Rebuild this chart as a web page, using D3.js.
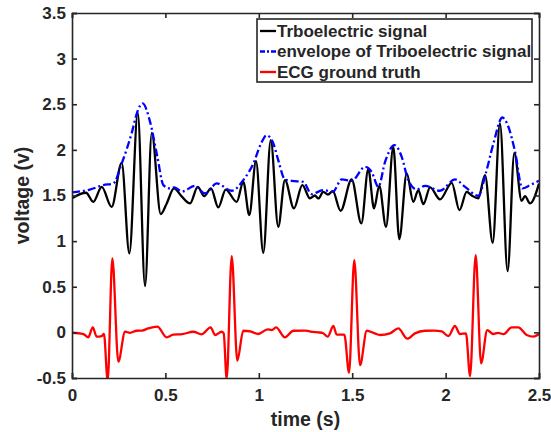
<!DOCTYPE html>
<html>
<head>
<meta charset="utf-8">
<script src="https://cdn.jsdelivr.net/npm/d3@7"></script>
<style>
  body { margin: 0; background: #fff; }
  text { font-family: "Liberation Sans", Arial, Helvetica, sans-serif; font-weight: bold; fill: #262626; }
</style>
</head>
<body>
<svg id="chart"></svg>
<script>
// triboelectric signal (time s, voltage v) - local peaks / troughs
const triboT = [0, 0.075, 0.114, 0.159, 0.212, 0.266, 0.307, 0.352, 0.391, 0.427, 0.475, 0.507, 0.546, 0.587,
  0.632, 0.673, 0.708, 0.744, 0.783, 0.823, 0.882, 0.917, 0.949, 0.985, 1.024, 1.064, 1.104, 1.140, 1.188,
  1.233, 1.274, 1.300, 1.319, 1.345, 1.370, 1.396, 1.438, 1.497, 1.549, 1.586, 1.617, 1.645, 1.681, 1.720,
  1.752, 1.792, 1.827, 1.854, 1.881, 1.917, 1.970, 2.033, 2.074, 2.113, 2.140, 2.175, 2.211, 2.252, 2.291,
  2.332, 2.368, 2.407, 2.425, 2.452, 2.500];
const triboV = [1.47, 1.53, 1.43, 1.595, 1.376, 1.858, 0.866, 2.406, 0.508, 2.187, 1.296, 1.413, 1.578, 1.49,
  1.413, 1.595, 1.493, 1.578, 1.37, 1.565, 1.43, 1.65, 1.285, 1.877, 0.872, 2.107, 1.157, 1.669, 1.359,
  1.614, 1.468, 1.50, 1.468, 1.54, 1.51, 1.548, 1.332, 1.676, 1.194, 1.789, 1.359, 1.606, 1.157, 2.033,
  1.022, 1.742, 1.43, 1.559, 1.405, 1.589, 1.457, 1.639, 1.34, 1.54, 1.50, 1.468, 1.723, 0.982, 2.29,
  0.672, 1.968, 1.442, 1.493, 1.413, 1.632];

// envelope of the triboelectric signal
const envT = [0, 0.096, 0.168, 0.221, 0.266, 0.319, 0.352, 0.378, 0.418, 0.457, 0.489, 0.525, 0.546, 0.590,
  0.658, 0.712, 0.775, 0.855, 0.917, 0.971, 1.012, 1.042, 1.078, 1.104, 1.140, 1.176, 1.238, 1.283, 1.345,
  1.396, 1.444, 1.497, 1.569, 1.604, 1.640, 1.676, 1.726, 1.765, 1.800, 1.845, 1.890, 1.970, 2.050, 2.104,
  2.175, 2.215, 2.256, 2.304, 2.336, 2.372, 2.411, 2.452, 2.500];
const envV = [1.534, 1.565, 1.614, 1.632, 1.85, 2.18, 2.43, 2.509, 2.307, 1.924, 1.614, 1.578, 1.59, 1.545,
  1.606, 1.523, 1.632, 1.552, 1.669, 1.852, 2.07, 2.16, 2.07, 1.888, 1.676, 1.661, 1.65, 1.515, 1.559,
  1.54, 1.676, 1.66, 1.814, 1.76, 1.595, 1.869, 2.052, 1.924, 1.669, 1.567, 1.606, 1.552, 1.676, 1.595,
  1.497, 1.742, 2.07, 2.355, 2.253, 1.979, 1.578, 1.614, 1.661];

// ECG ground truth
const ecgT = [0, 0.061, 0.087, 0.111, 0.132, 0.159, 0.171, 0.191, 0.216, 0.248, 0.284, 0.310, 0.346, 0.375,
  0.408, 0.457, 0.507, 0.542, 0.590, 0.649, 0.694, 0.742, 0.766, 0.801, 0.812, 0.828, 0.855, 0.885, 0.917,
  0.955, 0.997, 1.047, 1.070, 1.092, 1.140, 1.185, 1.250, 1.290, 1.319, 1.345, 1.369, 1.399, 1.417, 1.458,
  1.483, 1.511, 1.542, 1.578, 1.620, 1.649, 1.702, 1.747, 1.795, 1.836, 1.890, 1.940, 1.979, 2.015, 2.050,
  2.077, 2.109, 2.131, 2.161, 2.190, 2.223, 2.255, 2.280, 2.310, 2.354, 2.389, 2.434, 2.470, 2.500];
const ecgV = [-0.004, -0.018, -0.054, 0.055, -0.047, -0.04, -0.018, -0.53, 0.811, -0.32, 0.007, -0.005, 0.018, 0.02,
  0.043, 0.062, -0.054, -0.025, -0.02, 0.007, -0.021, 0.055, -0.029, 0.007, -0.01, -0.51, 0.836, -0.31, 0.018,
  0.01, -0.018, 0.033, 0.025, 0.055, -0.054, 0.018, 0.02, 0.005, 0, -0.01, -0.047, 0.07, -0.025, -0.025,
  -0.442, 0.792, -0.358, 0.018, -0.01, -0.029, -0.011, 0.043, -0.069, -0.011, 0.018, 0.02, 0.01, -0.04, 0.07,
  -0.018, -0.011, -0.478, 0.847, -0.339, 0.025, -0.018, -0.005, -0.02, 0.055, 0.055, -0.029, -0.047, -0.018];

const xTicks = [0, 0.5, 1, 1.5, 2, 2.5];
const yTicks = [-0.5, 0, 0.5, 1, 1.5, 2, 2.5, 3, 3.5];
const legendNames = ['Trboelectric signal', 'envelope of Triboelectric signal', 'ECG ground truth'];

const config = {
  containerWidth: 551,
  containerHeight: 432,
  margin: {top: 13, right: 12, bottom: 54, left: 72}
};

const svg = d3.select('#chart')
    .attr('width', config.containerWidth)
    .attr('height', config.containerHeight);

const width = config.containerWidth - config.margin.left - config.margin.right;
const height = config.containerHeight - config.margin.top - config.margin.bottom;

const chart = svg.append('g')
    .attr('transform', `translate(${config.margin.left},${config.margin.top})`);

const xScale = d3.scaleLinear().domain([0, 2.5]).range([0, width]);
const yScale = d3.scaleLinear().domain([-0.5, 3.5]).range([height, 0]);

chart.append('clipPath')
    .attr('id', 'clip')
  .append('rect')
    .attr('width', width)
    .attr('height', height);

// series, drawn through the scales
const zip = (t, v) => t.map((d, i) => [d, v[i]]);
const line = d3.line()
    .x(d => xScale(d[0]))
    .y(d => yScale(d[1]))
    .curve(d3.curveMonotoneX);

const series = [
  {name: legendNames[0], data: zip(triboT, triboV), color: '#000000', dash: null},
  {name: legendNames[1], data: zip(envT, envV), color: '#0000ff', dash: '8,3,2,3'},
  {name: legendNames[2], data: zip(ecgT, ecgV), color: '#ff0000', dash: null}
];

const plot = chart.append('g').attr('clip-path', 'url(#clip)');
// draw order: black first, then red, then blue envelope on top
[series[0], series[2], series[1]].forEach(s => {
  plot.append('path')
      .datum(s.data)
      .attr('fill', 'none')
      .attr('stroke', s.color)
      .attr('stroke-width', 2.3)
      .attr('stroke-dasharray', s.dash)
      .attr('stroke-linejoin', 'round')
      .attr('d', line);
});

// axes on all four sides, ticks pointing inward (matlab box)
// plain hyphen for negatives, like matlab
const tickFmt = d => String(d);
const axisColor = '#262626';
const xAxisB = d3.axisBottom(xScale).tickValues(xTicks).tickSize(-5).tickPadding(11).tickFormat(tickFmt);
const xAxisT = d3.axisTop(xScale).tickValues(xTicks).tickSize(-5).tickFormat('');
const yAxisL = d3.axisLeft(yScale).tickValues(yTicks).tickSize(-5).tickPadding(6).tickFormat(tickFmt);
const yAxisR = d3.axisRight(yScale).tickValues(yTicks).tickSize(-5).tickFormat('');

const axes = [
  chart.append('g').attr('transform', `translate(0,${height})`).call(xAxisB),
  chart.append('g').call(xAxisT),
  chart.append('g').call(yAxisL),
  chart.append('g').attr('transform', `translate(${width},0)`).call(yAxisR)
];
axes.forEach(g => {
  g.select('.domain').attr('stroke', axisColor).attr('stroke-width', 1.6);
  g.selectAll('.tick line').attr('stroke', axisColor).attr('stroke-width', 1.6);
  g.selectAll('.tick text')
      .attr('fill', axisColor)
      .style('font-size', '17px')
      .style('font-weight', 'bold');
});

// axis titles
svg.append('text')
    .attr('x', config.margin.left + width / 2)
    .attr('y', 426)
    .attr('text-anchor', 'middle')
    .style('font-size', '19.5px')
    .text('time (s)');

svg.append('text')
    .attr('transform', `translate(29,${config.margin.top + height / 2}) rotate(-90)`)
    .attr('text-anchor', 'middle')
    .style('font-size', '19.5px')
    .text('voltage (v)');

// legend
const legend = svg.append('g')
    .attr('transform', 'translate(257,19)');

legend.append('rect')
    .attr('width', 275)
    .attr('height', 63)
    .attr('fill', '#fff')
    .attr('stroke', axisColor)
    .attr('stroke-width', 1.6);

const rows = legend.selectAll('.legend-row')
    .data(series)
    .join('g')
    .attr('class', 'legend-row')
    .attr('transform', (d, i) => `translate(0,${12 + i * 20.5})`);

rows.append('line')
    .attr('x1', 3)
    .attr('x2', 19)
    .attr('stroke', d => d.color)
    .attr('stroke-width', 2.3)
    .attr('stroke-dasharray', d => d.dash ? '5,2,2,2' : null);

rows.append('text')
    .attr('x', 20)
    .attr('dy', '0.35em')
    .style('font-size', '17px')
    .attr('fill', '#000')
    .text(d => d.name);
</script>
</body>
</html>
